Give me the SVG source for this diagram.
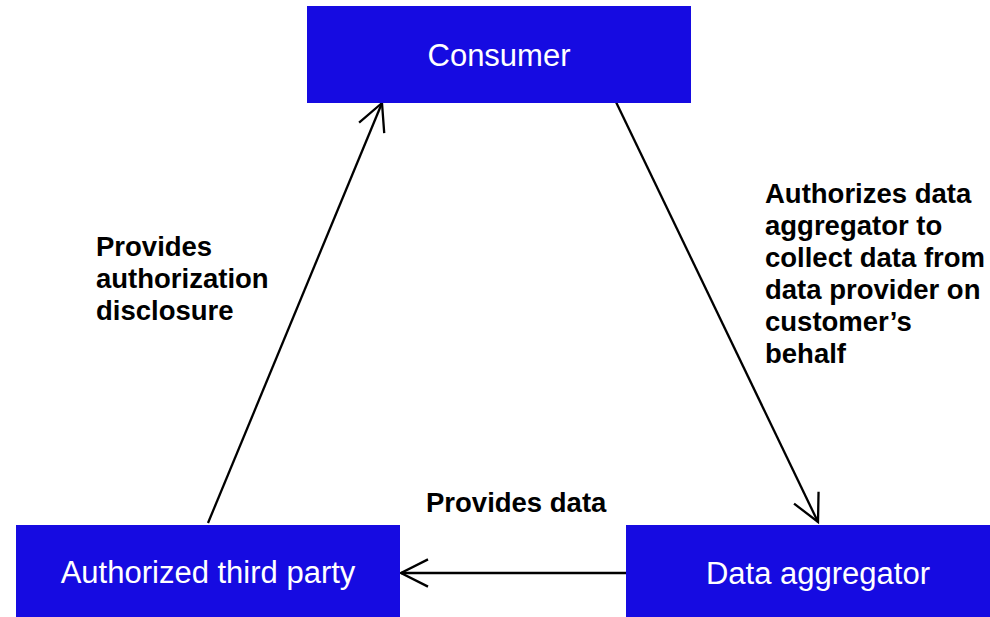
<svg xmlns="http://www.w3.org/2000/svg" width="990" height="617" viewBox="0 0 990 617">
<style>
.box{fill:#160BE1;}
.nt{font-family:"Liberation Sans",Arial,sans-serif;font-size:31px;fill:#ffffff;text-anchor:middle;}
.lb{font-family:"Liberation Sans",Arial,sans-serif;font-size:27.5px;font-weight:bold;fill:#000000;}
.cn{stroke:#000000;stroke-width:2.3;fill:none;}
</style>
<defs>
<marker id="arr" markerUnits="userSpaceOnUse" orient="auto" refX="0" refY="0" markerWidth="40" markerHeight="40" viewBox="-40 -20 40 40" overflow="visible">
<path d="M-27,-13.6 L0,0 L-27,13.6" fill="none" stroke="#000000" stroke-width="2.3"/>
</marker>
</defs>
<rect width="990" height="617" fill="#ffffff"/>
<g id="connectors">
<line class="cn" x1="208" y1="523" x2="382" y2="103" marker-end="url(#arr)"/>
<line class="cn" x1="616" y1="102" x2="818" y2="522" marker-end="url(#arr)"/>
<line class="cn" x1="626" y1="573" x2="401" y2="573" marker-end="url(#arr)"/>
</g>
<g id="consumer">
<rect class="box" x="307" y="6" width="384" height="97"/>
<text class="nt" x="499" y="66">Consumer</text>
</g>
<g id="authorized-third-party">
<rect class="box" x="16" y="525" width="384" height="92"/>
<text class="nt" x="208" y="583">Authorized third party</text>
</g>
<g id="data-aggregator">
<rect class="box" x="626" y="525" width="364" height="92"/>
<text class="nt" x="818" y="584">Data aggregator</text>
</g>
<g id="labels">
<text class="lb" x="96" y="256">Provides</text>
<text class="lb" x="96" y="288">authorization</text>
<text class="lb" x="96" y="320">disclosure</text>
<text class="lb" x="765" y="203">Authorizes data</text>
<text class="lb" x="765" y="235">aggregator to</text>
<text class="lb" x="765" y="267">collect data from</text>
<text class="lb" x="765" y="299">data provider on</text>
<text class="lb" x="765" y="331">customer’s</text>
<text class="lb" x="765" y="363">behalf</text>
<text class="lb" x="426" y="512">Provides data</text>
</g>
</svg>
